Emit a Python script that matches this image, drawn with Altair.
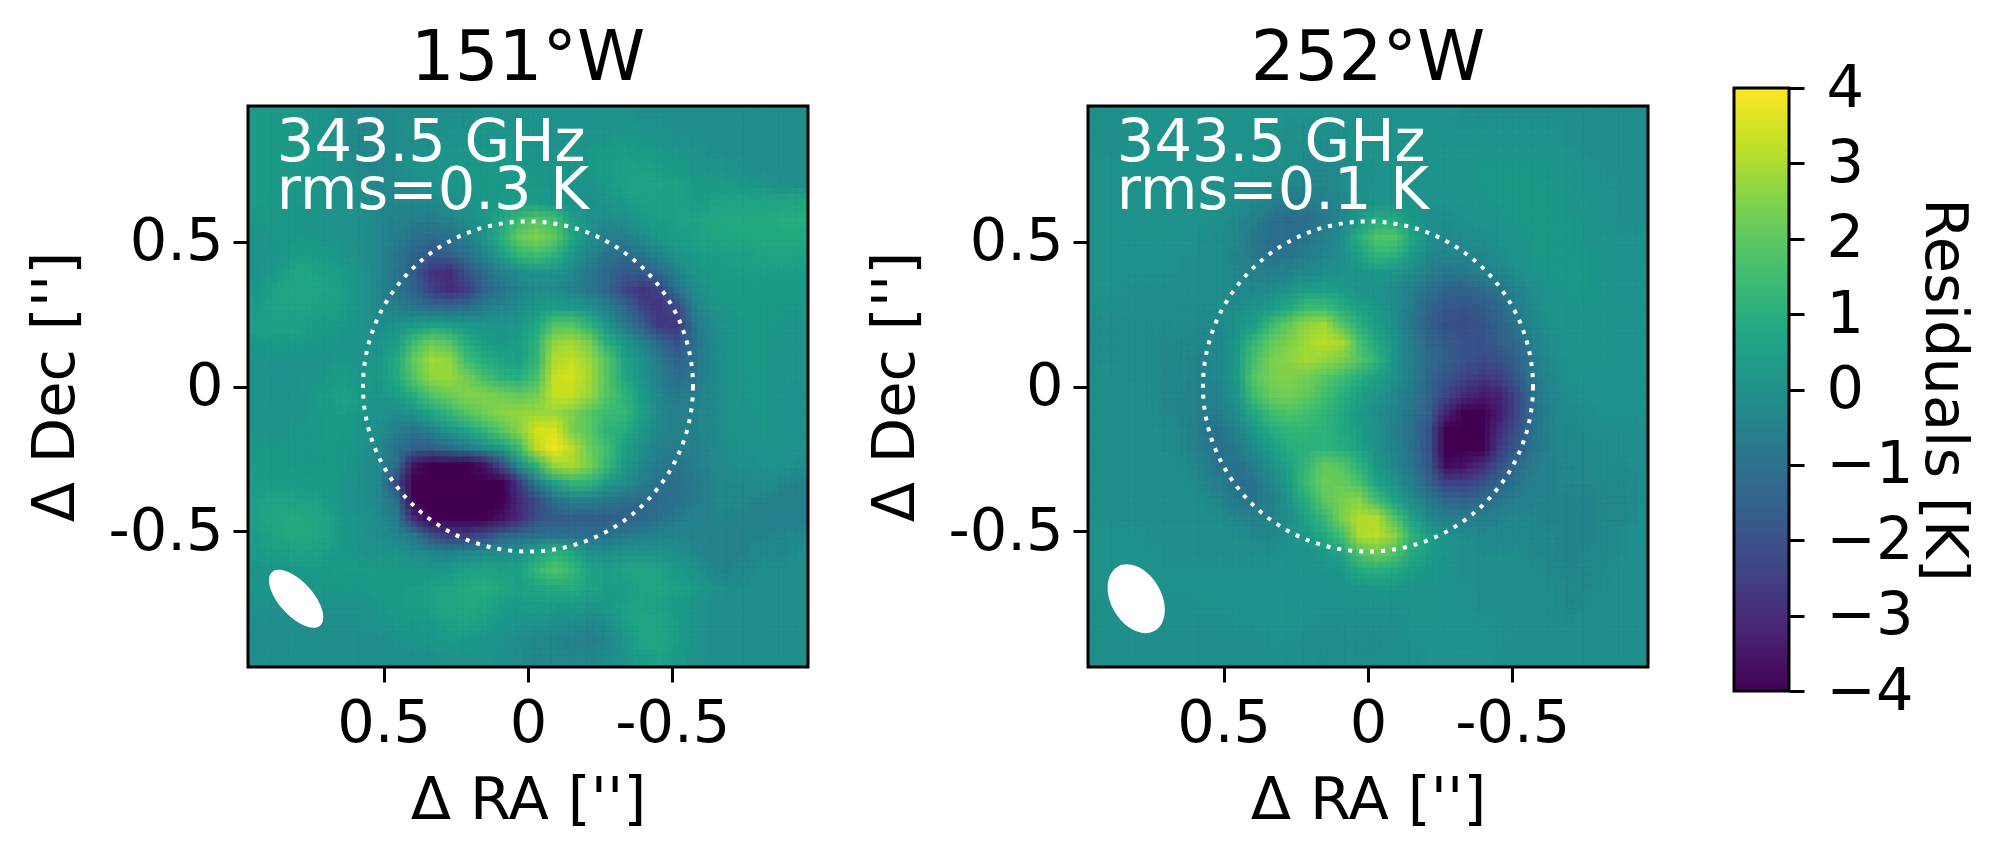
import altair as alt
import pandas as pd

titles = ["151°W", "252°W"]
line_one = "343.5 GHz"
rms_labels = ["rms=0.3 K", "rms=0.1 K"]
tick_values = [0.5, 0, -0.5]
colorbar_ticks = [-4, -3, -2, -1, 0, 1, 2, 3, 4]
viridis = ["#440154", "#482475", "#414487", "#355f8d", "#2a788e", "#21918c",
           "#22a884", "#44bf70", "#7ad151", "#bddf26", "#fde725"]
EXTENT = 0.97
CIRCLE_DIAMETER_PX = 330

map_151 = [
[.4,.4,.4,.3,.1,-.1,-.2,-.2,-.1,-.1,0,0,0,.1,.1,.1,.1,.1,.1,.1,.1,.1,0,0,0,0,0,0,0,0,0,0],
[.4,.4,.4,.3,.1,-.1,-.3,-.2,-.1,0,0,.1,.1,.2,.2,.2,.1,.1,.1,.2,.2,.3,.2,.1,0,0,0,0,0,0,0,0],
[.4,.4,.4,.3,.2,0,-.3,-.3,-.1,0,.1,.2,.2,.3,.3,.3,.2,.2,.2,.3,.4,.5,.4,.3,.2,.1,0,0,0,0,0,0],
[.4,.4,.4,.3,.2,0,-.2,-.3,-.1,.1,.2,.3,.3,.3,.4,.3,.3,.3,.2,.3,.5,.6,.6,.5,.4,.2,.2,.1,0,0,0,0],
[.4,.4,.4,.3,.2,.1,-.1,-.2,-.2,0,.1,.2,.3,.3,.3,.3,.3,.2,.1,.2,.4,.6,.7,.7,.6,.4,.4,.4,.3,.2,0,0],
[.4,.3,.3,.3,.2,.1,0,-.2,-.3,-.3,-.2,0,.1,.3,.4,.5,.5,.3,0,0,.2,.4,.6,.6,.6,.5,.6,.7,.7,.7,.7,.8],
[.3,.3,.3,.2,.2,.1,0,-.2,-.4,-.6,-.6,-.4,-.1,.3,.8,1.5,1.9,1.6,.6,.1,-.1,0,.3,.5,.6,.7,.8,.9,.9,.9,1.,1.],
[.2,.3,.3,.3,.2,.1,0,-.2,-.6,-1.,-1.2,-1.,-.5,.2,1.1,2.1,2.5,2.,.8,0,-.5,-.5,-.1,.3,.5,.6,.7,.8,.8,.9,.9,.9],
[.1,.2,.4,.5,.4,.2,0,-.3,-.8,-1.4,-1.8,-1.6,-1.,-.3,.5,1.3,1.5,1.2,.3,-.3,-.9,-1.1,-.8,-.3,.2,.4,.5,.6,.6,.7,.7,.7],
[.1,.4,.7,.8,.6,.4,.1,-.3,-.9,-1.7,-2.8,-3.,-1.9,-1.1,-.5,-.1,.1,.1,-.2,-.7,-1.3,-1.8,-1.8,-1.2,-.4,.2,.4,.5,.5,.5,.5,.5],
[.3,.6,.8,.8,.7,.5,.2,-.2,-.8,-1.4,-2.4,-3.,-2.5,-1.4,-.8,-.4,-.1,-.1,-.4,-.8,-1.3,-2.2,-2.7,-2.4,-1.,-.1,.3,.4,.4,.4,.4,.4],
[.5,.7,.7,.7,.6,.5,.2,-.2,-.5,-.8,-1.1,-1.2,-1.,-.6,-.3,-.1,.3,.5,.4,.1,-.5,-1.2,-2.3,-2.8,-2.2,-.5,.1,.3,.4,.3,.3,.3],
[.6,.6,.6,.5,.4,.3,.1,-.1,.1,.4,.6,.5,.3,.2,.2,.3,.8,1.8,1.9,1.2,.2,-.7,-1.5,-2.6,-2.7,-.9,-.1,.2,.3,.3,.3,.2],
[.3,.4,.4,.3,.3,.2,.1,.1,.5,1.6,2.2,1.9,1.,.5,.3,.5,1.2,2.7,2.9,2.4,1.1,.3,-.4,-1.3,-1.9,-1.,-.2,.2,.3,.3,.2,.2],
[.2,.2,.2,.2,.2,.3,.2,.3,.9,2.1,2.9,2.7,1.6,1.,.7,.6,1.3,3.1,3.3,2.8,1.9,.7,.1,-.7,-1.4,-.9,-.2,.2,.3,.3,.2,.2],
[.2,.1,.1,.2,.4,.5,.4,.3,.9,1.9,2.7,2.8,2.3,1.7,1.2,1.,1.7,3.3,3.5,2.9,1.9,.9,.1,-.5,-1.,-.8,-.2,.1,.3,.3,.2,.2],
[.2,.1,.1,.3,.5,.6,.4,.2,.5,1.1,1.8,2.2,2.5,2.5,2.3,2.1,2.3,3.3,3.3,2.8,1.9,1.2,.5,-.3,-.7,-.6,-.2,.1,.3,.3,.2,.1],
[.2,.2,.2,.3,.4,.5,.3,.1,-.1,.2,.8,1.3,1.9,2.3,2.6,2.7,2.8,2.8,2.5,1.9,1.5,1.4,.6,-.2,-.5,-.4,-.2,.1,.2,.3,.2,.1],
[.2,.2,.3,.3,.4,.4,.2,0,-.5,-.8,-.4,.2,.7,1.3,1.9,2.6,3.5,3.6,2.4,2.,1.2,1.,.3,-.3,-.5,-.4,-.2,.1,.2,.3,.2,.1],
[.3,.3,.3,.3,.4,.3,.1,-.2,-.9,-1.5,-1.6,-1.1,-.6,-.1,.5,1.5,3.2,3.9,3.2,2.2,1.6,.6,0,-.5,-.6,-.5,-.3,0,.1,.2,.2,.1],
[.4,.4,.3,.3,.3,.3,0,-.3,-1.2,-3.6,-4,-4,-4,-3.6,-2.2,-.1,1.2,2.8,3.,2.4,1.4,.4,-.2,-.7,-.8,-.6,-.3,-.1,0,.1,.1,0],
[.5,.5,.5,.4,.4,.2,0,-.3,-2.2,-4,-4,-4,-4,-4,-4,-2.6,-.6,.6,1.3,1.2,.5,0,-.5,-1.,-1.,-.7,-.4,-.2,-.2,-.1,-.2,-.4],
[.6,.7,.7,.6,.5,.2,0,-.3,-1.,-4,-4,-4,-4,-4,-4,-3.,-2.2,-1.,-.6,-.5,-.8,-1.,-1.2,-1.2,-1.,-.7,-.4,-.2,-.3,-.4,-.5,-.5],
[.6,.8,.9,.8,.7,.3,.1,-.1,-.7,-3.,-4,-4,-4,-4,-3.6,-3.,-2.,-1.7,-1.6,-1.6,-1.6,-1.5,-1.3,-1.,-.7,-.5,-.4,-.4,-.4,-.5,-.5,-.5],
[.5,.7,.9,.9,.7,.3,.1,-.1,-.3,-.8,-2.,-2.6,-2.6,-2.2,-1.5,-1.2,-1.,-.9,-1.,-1.,-.9,-.7,-.5,-.4,-.4,-.4,-.5,-.5,-.4,-.4,-.3,-.3],
[.4,.5,.6,.6,.5,.3,.2,.1,.1,-.1,-.2,-.4,-.3,-.1,0,.2,.7,1.2,.8,.1,0,.1,.2,.1,0,-.2,-.4,-.5,-.4,-.2,-.2,0],
[.2,.2,.3,.3,.3,.4,.4,.4,.4,.3,.3,.4,.6,.7,.6,.6,1.3,1.8,1.4,.7,.5,.7,.8,.7,.4,.1,-.3,-.4,-.2,0,0,0],
[.3,.3,.3,.3,.3,.3,.3,.4,.4,.5,.6,.7,.9,1.,.8,.6,.7,.9,1.,.7,.5,.5,.7,.8,.6,.4,.1,-.1,-.1,0,0,0],
[.1,.1,.1,.1,.1,.1,.1,.3,.4,.5,.6,.8,.9,.8,.5,.4,.5,.5,.4,.2,.4,.6,.7,.6,.4,.2,0,0,0,0,0,0],
[0,0,0,0,0,0,.1,.2,.3,.3,.4,.6,.7,.5,.3,.2,.1,0,-.1,-.2,0,.5,.8,.7,.5,.2,0,0,0,0,0,0],
[0,0,0,0,0,0,0,0,.1,.2,.3,.4,.3,.2,.1,-.1,-.2,-.2,-.4,-.5,-.3,.2,.7,.8,.5,.2,0,0,0,0,0,0],
[0,0,0,0,0,0,0,0,0,0,0,.1,.1,.1,0,-.1,-.3,-.3,-.3,-.3,-.1,.2,.5,.7,.4,.1,0,0,0,0,0,0],
]

map_252 = [
[0,0,.1,.1,.1,.1,.1,.1,.1,.1,.1,.1,.1,.1,.1,.1,.1,.1,.1,.1,.1,0,0,0,0,0,0,0,0,0,0,0],
[0,0,.1,.2,.1,.1,.1,.1,.1,.1,.1,0,0,0,0,.1,.1,.1,.1,.1,.1,.1,.1,.1,.1,.1,.1,0,0,0,0,0],
[0,0,.1,.2,.2,.1,.1,.1,.1,.1,0,0,-.1,-.1,0,.1,.1,.1,.1,.1,.2,.2,.2,.2,.2,.2,.1,.1,0,0,0,0],
[.1,.1,.1,.1,.1,.1,.1,.1,.1,.1,0,-.1,-.2,-.2,-.1,0,.1,.1,.1,.1,.2,.2,.3,.3,.3,.3,.2,.2,.1,0,0,0],
[.1,.1,.1,.1,.1,.1,.1,.1,0,0,-.1,-.3,-.3,-.3,-.1,0,.1,.1,.1,.1,.2,.2,.3,.3,.3,.3,.3,.2,.1,.1,0,0],
[.1,.1,.1,.1,.1,.1,.1,.1,0,-.2,-.5,-.7,-.7,-.5,-.3,0,.2,.2,.1,.1,.1,.2,.2,.3,.3,.3,.3,.2,.2,.1,0,0],
[.1,.1,.1,.1,.1,.1,.1,0,-.2,-.5,-1.,-1.2,-1.,-.7,-.2,.4,1.,.9,.3,0,0,.1,.2,.2,.3,.3,.3,.3,.2,.1,0,0],
[.1,.1,.1,.1,.1,.1,0,-.1,-.3,-.8,-1.1,-1.1,-.8,-.5,0,1.1,1.8,1.8,.8,0,-.2,-.1,0,.1,.2,.3,.3,.3,.2,.2,.1,.1],
[.1,.1,.1,.1,.1,.1,0,-.1,-.4,-.7,-.9,-.8,-.6,-.3,0,.6,1.3,1.2,.4,-.2,-.3,-.3,-.2,0,.2,.3,.3,.3,.3,.2,.1,.1],
[.1,.1,.1,.1,.1,0,0,-.1,-.3,-.5,-.5,-.4,-.2,0,.1,.2,.3,.2,-.1,-.5,-.8,-.7,-.5,-.3,0,.2,.3,.3,.3,.2,.1,.1],
[.1,.1,0,0,0,0,-.1,-.1,-.2,-.2,-.1,.2,.5,.6,.4,.2,.1,-.1,-.5,-1.,-1.4,-1.5,-1.2,-.9,-.4,0,.2,.3,.3,.2,.1,.1],
[0,0,0,0,0,-.1,-.1,-.1,-.1,.1,.4,.9,1.5,1.5,1.,.6,.3,-.1,-.7,-1.4,-1.8,-1.9,-1.7,-1.3,-.6,-.1,.2,.2,.2,.2,.1,.1],
[-.1,-.1,-.1,-.1,-.1,-.1,-.2,-.2,.1,.5,1.5,2.1,2.7,2.9,1.9,1.1,.5,0,-.8,-1.6,-2.,-2.1,-1.9,-1.5,-.9,-.2,.1,.2,.2,.2,.1,.1],
[-.1,-.1,-.1,-.1,-.2,-.2,-.3,-.2,.3,1.4,2.1,2.5,2.9,3.2,3.,1.7,.9,.2,-.6,-1.3,-1.7,-1.9,-1.9,-1.6,-1.2,-.4,0,.2,.2,.2,.1,.1],
[-.1,-.1,-.1,-.1,-.2,-.3,-.4,-.3,.4,1.7,2.4,2.6,2.9,2.7,2.4,1.9,1.2,.2,-.6,-1.2,-1.6,-1.9,-2.1,-2.,-1.5,-.6,-.1,.1,.2,.2,.1,.1],
[0,0,-.1,-.1,-.2,-.3,-.4,-.3,.4,1.9,2.4,2.5,2.3,1.9,1.5,1.,.6,.1,-.6,-1.3,-1.9,-2.4,-2.7,-2.5,-1.7,-.7,-.2,.1,.1,.1,.1,.1],
[0,0,0,-.1,-.2,-.4,-.5,-.4,.2,1.6,2.2,2.3,2.1,1.6,1.1,.6,.2,-.2,-.7,-1.4,-2.3,-3.,-3.4,-3.2,-2.3,-.9,-.3,0,.1,.1,.1,.1],
[0,0,0,0,-.2,-.4,-.6,-.6,-.1,.9,1.6,1.8,1.6,1.3,.9,.4,0,-.4,-.9,-1.6,-3.2,-4,-4,-3.4,-2.2,-1.,-.4,-.1,0,.1,.1,.1],
[0,0,0,0,-.1,-.3,-.7,-.9,-.4,.3,1.,1.3,1.3,1.2,.9,.5,.1,-.5,-1.,-1.9,-4,-4,-4,-3.,-2.,-.9,-.4,-.2,-.1,0,0,0],
[0,0,0,0,-.1,-.2,-.6,-1.,-.7,-.1,.5,1.,1.2,1.2,1.,.6,.1,-.4,-1.,-2.,-4,-4,-4,-2.6,-1.7,-.8,-.4,-.2,-.2,-.1,0,0],
[0,0,0,0,0,-.1,-.4,-.9,-1.,-.5,.1,.7,1.4,2.1,1.9,1.2,.3,-.2,-.9,-1.8,-3.8,-3.6,-3.,-2.,-1.2,-.6,-.4,-.3,-.2,-.1,-.1,0],
[0,0,0,0,0,-.1,-.2,-.6,-1.,-.9,-.2,.5,1.5,2.2,2.2,1.7,.7,.1,-.6,-1.4,-2.4,-2.4,-2.,-1.4,-.9,-.5,-.4,-.3,-.3,-.2,-.2,-.1],
[0,0,0,0,0,0,-.1,-.3,-.7,-.9,-.5,.2,1.1,2.,2.4,2.6,1.6,.7,-.1,-.7,-1.2,-1.5,-1.2,-.8,-.5,-.4,-.4,-.4,-.4,-.3,-.2,-.1],
[0,0,0,0,0,0,0,-.1,-.3,-.5,-.4,0,.7,1.4,2.4,3.1,3.1,1.8,.6,-.2,-.5,-.6,-.5,-.4,-.3,-.3,-.4,-.4,-.4,-.3,-.2,0],
[.1,.1,.1,0,0,0,0,0,-.1,-.2,-.2,.1,.4,.9,1.6,3.,3.2,2.6,1.2,.5,.1,-.1,-.2,-.2,-.2,-.2,-.3,-.4,-.4,-.3,-.1,0],
[.1,.1,.1,.1,0,0,0,0,0,0,0,.1,.2,.4,.7,1.8,2.2,1.8,.9,.5,.2,0,-.1,-.1,-.1,-.2,-.3,-.4,-.3,-.2,-.1,0],
[.1,.1,.1,.1,.1,.1,.1,.1,.1,.1,.1,.1,.1,.2,.3,.9,1.1,.9,.5,.3,.1,0,0,0,0,-.1,-.2,-.3,-.3,-.1,0,0],
[.1,.1,.1,.1,.1,.1,.1,.1,.1,.1,.1,.1,.1,.1,.2,.2,.3,.3,.2,.2,.1,.1,0,0,0,0,-.1,-.3,-.2,-.1,0,0],
[0,0,0,0,0,0,.1,.1,.1,.1,.1,.1,.1,.1,.1,.1,.1,.1,.1,.1,.1,.1,0,0,0,0,-.1,-.2,-.1,0,0,0],
[0,0,0,0,0,0,0,0,.1,.1,.1,.1,.1,0,0,0,0,0,.1,.1,.1,.1,.1,0,0,0,-.1,-.1,0,0,0,0],
[0,0,0,0,0,0,0,0,0,0,.1,.1,0,0,-.1,-.1,-.1,0,.1,.1,.1,.1,.1,.1,0,0,0,0,0,0,0,0],
[0,0,0,0,0,0,0,0,0,0,0,0,0,-.1,-.1,-.1,-.1,0,0,.1,.1,.1,.1,0,0,0,0,0,0,0,0,0],
]

beam_x = 0.803
beam_y = -0.734
beam_angles = [318, 330]
beam_ratios = [0.47, 0.68]
beam_sizes = [5184, 5476]

PANEL_W = 560
PANEL_H = 561
FONT = "DejaVu Sans"
FS = 59
SOFTEN_STEPS = [0, 1, -1]


def grid_frame(grid):
    n_rows = len(grid)
    n_cols = len(grid[0])
    dx = 2 * EXTENT / n_cols
    dy = 2 * EXTENT / n_rows
    rows = []
    for r, row in enumerate(grid):
        for c, v in enumerate(row):
            rows.append({
                "x": EXTENT - c * dx, "x2": EXTENT - (c + 1) * dx,
                "y": EXTENT - r * dy, "y2": EXTENT - (r + 1) * dy, "v": v,
            })
    return pd.DataFrame(rows), dx, dy


def ellipse_path(a):
    k = 0.5523
    return (f"M 0 -1 C {k*a} -1 {a} {-k} {a} 0 C {a} {k} {k*a} 1 0 1 "
            f"C {-k*a} 1 {-a} {k} {-a} 0 C {-a} {-k} {-k*a} -1 0 -1 Z")


x_scale = alt.Scale(domain=[EXTENT, -EXTENT], nice=False, zero=False)
y_scale = alt.Scale(domain=[-EXTENT, EXTENT], nice=False, zero=False)
tick_expr = "datum.value == 0 ? '0' : (datum.value > 0 ? '0.5' : '-0.5')"
x_axis = alt.Axis(values=tick_values, labelExpr=tick_expr, title="Δ RA ['']",
                  labelPadding=12, titlePadding=18)
y_axis = alt.Axis(values=tick_values, labelExpr=tick_expr, title="Δ Dec ['']",
                  labelPadding=10, titlePadding=22)


def panel(grid, title, rms, angle, ratio, size):
    color_scale = alt.Scale(scheme="viridis", domain=[-4, 4], clamp=True)
    frame_df, dx, dy = grid_frame(grid)
    base = alt.Chart(frame_df)
    heat = base.mark_rect(strokeWidth=0.6, clip=True).encode(
        x=alt.X("x:Q", scale=x_scale, axis=x_axis),
        x2="x2:Q",
        y=alt.Y("y:Q", scale=y_scale, axis=y_axis),
        y2="y2:Q",
        color=alt.Color("v:Q", scale=color_scale, legend=None),
        stroke=alt.Stroke("v:Q", scale=color_scale, legend=None),
    )
    # Same cells redrawn at third-of-a-cell shifts with falling opacity, so the
    # browser blends neighbouring cells as imshow's interpolation does.
    soft_layers = []
    k = 1
    for sx in SOFTEN_STEPS:
        for sy in SOFTEN_STEPS:
            if sx == 0 and sy == 0:
                continue
            k += 1
            ox = sx * dx / 3
            oy = sy * dy / 3
            soft_layers.append(
                base.transform_calculate(
                    xs=f"datum.x + ({ox})", xs2=f"datum.x2 + ({ox})",
                    ys=f"datum.y + ({oy})", ys2=f"datum.y2 + ({oy})",
                ).mark_rect(opacity=1 / k, clip=True).encode(
                    x=alt.X("xs:Q", scale=x_scale, axis=x_axis),
                    x2="xs2:Q",
                    y=alt.Y("ys:Q", scale=y_scale, axis=y_axis),
                    y2="ys2:Q",
                    color=alt.Color("v:Q", scale=color_scale, legend=None),
                )
            )
    circle = alt.Chart(pd.DataFrame({"x": [0.0], "y": [0.0]})).mark_point(
        shape="circle", size=CIRCLE_DIAMETER_PX ** 2, filled=False,
        stroke="white", strokeWidth=4, strokeDash=[4, 7], opacity=1,
    ).encode(x=alt.X("x:Q", scale=x_scale, axis=x_axis), y=alt.Y("y:Q", scale=y_scale, axis=y_axis))
    beam = alt.Chart(pd.DataFrame({"x": [beam_x], "y": [beam_y]})).mark_point(
        shape=ellipse_path(ratio), size=size, filled=True, fill="white",
        opacity=1, angle=angle,
    ).encode(x=alt.X("x:Q", scale=x_scale, axis=x_axis), y=alt.Y("y:Q", scale=y_scale, axis=y_axis))
    notes = alt.Chart(pd.DataFrame({
        "x": [0.87, 0.87], "y": [0.78, 0.615], "t": [line_one, rms],
    })).mark_text(
        align="left", baseline="alphabetic", color="white",
        font=FONT, fontSize=FS,
    ).encode(x=alt.X("x:Q", scale=x_scale, axis=x_axis), y=alt.Y("y:Q", scale=y_scale, axis=y_axis), text="t:N")
    frame = alt.Chart(pd.DataFrame({"a": [0]})).mark_rect(
        filled=False, stroke="black", strokeWidth=3,
    ).encode(x=alt.value(0), x2=alt.value(PANEL_W), y=alt.value(0), y2=alt.value(PANEL_H))
    return alt.layer(heat, *soft_layers, circle, beam, notes, frame).properties(
        width=PANEL_W, height=PANEL_H,
        title=alt.TitleParams(title, fontSize=69, font=FONT, fontWeight="normal",
                              offset=11, anchor="middle", color="black"),
    )


p1 = panel(map_151, titles[0], rms_labels[0], beam_angles[0], beam_ratios[0], beam_sizes[0])
p2 = panel(map_252, titles[1], rms_labels[1], beam_angles[1], beam_ratios[1], beam_sizes[1])

bar_gradient = alt.LinearGradient(
    gradient="linear", x1=0, x2=0, y1=1, y2=0,
    stops=[alt.GradientStop(color=c, offset=i / (len(viridis) - 1)) for i, c in enumerate(viridis)],
)
bar_df = pd.DataFrame({"low": [colorbar_ticks[0]], "high": [colorbar_ticks[-1]]})
bar = alt.Chart(bar_df).mark_rect(color=bar_gradient, stroke="black", strokeWidth=3).encode(
    x=alt.value(0), x2=alt.value(55),
    y=alt.Y("low:Q", scale=alt.Scale(domain=[-4, 4], nice=False, zero=False, range=[585, -18]), axis=alt.Axis(
        orient="right", values=colorbar_ticks, title="Residuals [K]", titleAngle=90,
        labelPadding=22, titlePadding=1, labelFlush=False)),
    y2="high:Q",
).properties(width=55, height=PANEL_H)

chart = alt.hconcat(
    alt.hconcat(p1, p2, spacing=56),
    bar, spacing=82,
).properties(
    padding={"left": 18, "top": 16, "right": 10, "bottom": 20}
).configure_view(stroke=None).configure_axis(
    grid=False, domain=False, ticks=True, tickSize=15, tickWidth=3, tickColor="black",
    labelFont=FONT, labelFontSize=FS, labelColor="black",
    titleFont=FONT, titleFontSize=FS, titleColor="black", titleFontWeight="normal",
    labelOverlap=False, labelFlush=False,
)

chart.save("out.html", embed_options={"renderer": "svg", "actions": False})
